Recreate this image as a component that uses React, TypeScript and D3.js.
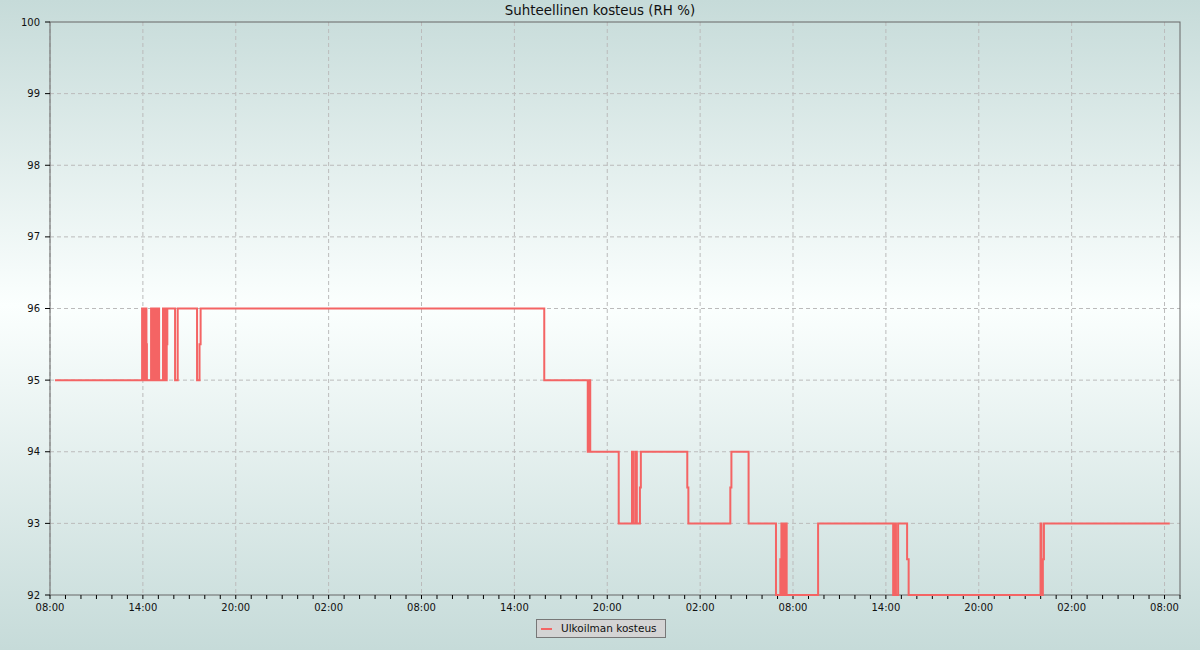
import React from 'react';
import * as d3 from 'd3';

// hours after the first 08:00 on the axis, and the RH reading that starts there
const hoursFromStart = [
  0.32, 5.95, 5.99, 6.03, 6.07, 6.11, 6.15, 6.19, 6.23, 6.26,
  6.53, 6.57, 6.61, 6.65, 6.69, 6.73, 6.77, 6.81, 6.85, 6.89, 6.93, 6.97, 7.01, 7.05,
  7.3, 7.34, 7.38, 7.42, 7.46, 7.5, 7.54, 7.58,
  8.08, 8.25, 9.5, 9.66, 9.73, 31.93, 34.74, 34.84, 34.9, 36.74,
  37.6, 37.7, 37.84, 37.91, 38.11, 38.17, 41.17, 41.24, 43.95, 44.02, 45.13, 46.9, 47.18,
  47.25, 47.31, 47.38, 47.47, 47.54, 47.59, 49.62, 54.47, 54.58, 54.65, 54.79, 55.37, 55.47, 63.99,
  64.05, 64.14, 64.21, 72.34,
];
const humidity = [
  95, 96, 95, 96, 95, 96, 95, 96, 95.5, 95,
  96, 95, 96, 95, 96, 95, 96, 95, 96, 95, 96, 95, 96, 95,
  96, 95, 96, 95, 96, 95, 95.5, 96,
  95, 96, 95, 95.5, 96, 95, 94, 95, 94, 93,
  94, 93, 94, 93, 93.5, 94, 93.5, 93, 93.5, 94, 93, 92, 92.5,
  93, 92, 93, 92, 93, 92, 93, 92, 93, 92, 93, 92.5, 92, 93,
  92, 92.5, 93, 93,
];
const yTicks = [92, 93, 94, 95, 96, 97, 98, 99, 100];
const seriesName = 'Ulkoilman kosteus';
const title = 'Suhteellinen kosteus (RH %)';

const W = 1200;
const H = 650;
const m = { left: 50, right: 20, top: 22, bottom: 55 };
const start = new Date(2024, 0, 1, 8, 0);
const end = d3.timeHour.offset(start, 73);
const font = 'DejaVu Sans, sans-serif';
const lineColor = '#f46464';

const App: React.FC = () => {
  const x = d3.scaleTime().domain([start, end]).range([m.left, W - m.right]);
  const y = d3.scaleLinear().domain([92, 100]).range([H - m.bottom, m.top]);

  const points = hoursFromStart.map((h, i) => ({
    t: new Date(start.getTime() + h * 3600 * 1000),
    v: humidity[i],
  }));
  const line = d3
    .line<{ t: Date; v: number }>()
    .x((d) => x(d.t))
    .y((d) => y(d.v))
    .curve(d3.curveStepAfter);

  const hourTicks = x.ticks(d3.timeHour.every(1)!);
  const majorTicks = hourTicks.filter((d) => d.getHours() % 6 === 2);
  const fmt = d3.timeFormat('%H:%M');
  const x0 = m.left;
  const x1 = W - m.right;
  const yb = H - m.bottom;

  return (
    <svg width={W} height={H} style={{ position: 'absolute', left: 0, top: 0 }} fontFamily={font}>
      <defs>
        <linearGradient id="bg" x1="0" y1="0" x2="0" y2="1">
          <stop offset="0%" stopColor="#c6dbd9" />
          <stop offset="47%" stopColor="#fbfffe" />
          <stop offset="100%" stopColor="#c6dbd9" />
        </linearGradient>
      </defs>
      <rect width={W} height={H} fill="url(#bg)" />
      <text x={W / 2} y={15} textAnchor="middle" fontSize={13.4} fill="#111">
        {title}
      </text>

      {/* grid */}
      {majorTicks.map((d, i) => (
        <line key={'gx' + i} x1={x(d)} x2={x(d)} y1={m.top} y2={yb} stroke="#bbb" strokeDasharray="4,3" />
      ))}
      {yTicks.slice(1, -1).map((v) => (
        <line key={'gy' + v} x1={x0} x2={x1} y1={y(v)} y2={y(v)} stroke="#bbb" strokeDasharray="4,3" />
      ))}

      {/* frame */}
      <rect x={x0} y={m.top} width={x1 - x0} height={yb - m.top} fill="none" stroke="#666" />

      {/* y axis */}
      {yTicks.map((v) => (
        <g key={'yt' + v}>
          <line x1={x0 - 5} x2={x0} y1={y(v)} y2={y(v)} stroke="#000" />
          <text x={x0 - 10} y={y(v)} dy="0.35em" textAnchor="end" fontSize={10} fill="#111">
            {v}
          </text>
        </g>
      ))}

      {/* x axis */}
      {hourTicks.map((d, i) => (
        <line key={'xt' + i} x1={x(d)} x2={x(d)} y1={yb} y2={yb + 4} stroke="#000" />
      ))}
      {majorTicks.map((d, i) => (
        <text key={'xl' + i} x={x(d)} y={yb + 16} textAnchor="middle" fontSize={10} fill="#111">
          {fmt(d)}
        </text>
      ))}

      <path d={line(points) ?? ''} fill="none" stroke={lineColor} strokeWidth={2} />

      {/* legend */}
      <g transform={`translate(536,619)`}>
        <rect x={0.5} y={0.5} width={129} height={18} fill="#d4d4d4" stroke="#777" />
        <line x1={5} x2={16} y1={10} y2={10} stroke={lineColor} strokeWidth={2} />
        <text x={25} y={13} fontSize={10.5} fill="#111">
          {seriesName}
        </text>
      </g>
    </svg>
  );
};

export default App;
